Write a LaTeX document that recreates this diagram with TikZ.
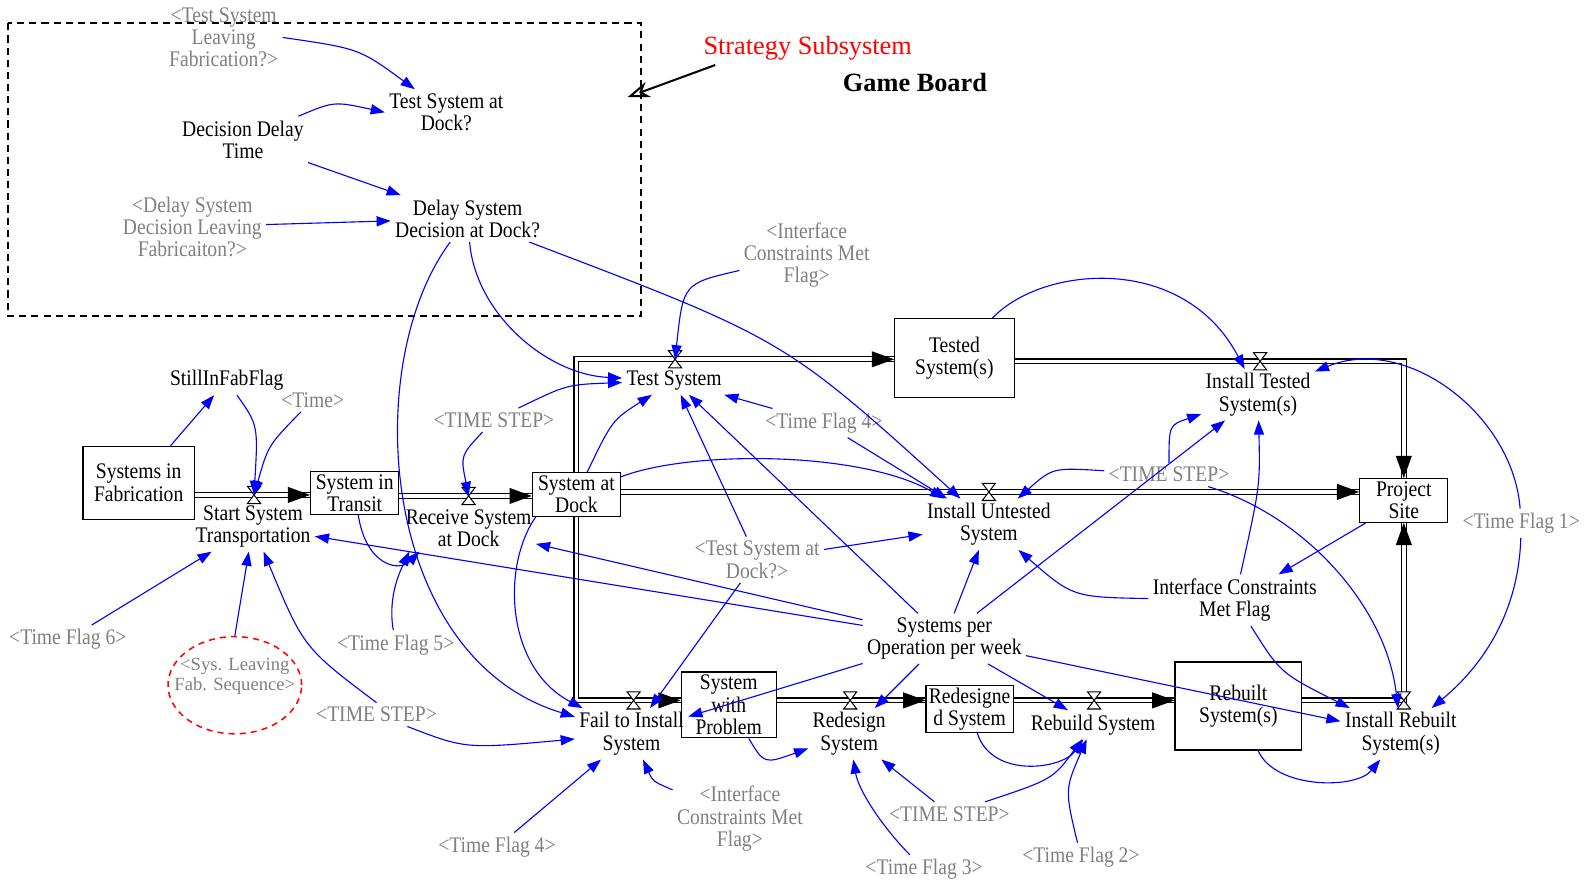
\documentclass[tikz,border=0pt]{standalone}
\usepackage{fontspec}
\setmainfont{Liberation Serif}
\newfontfamily\vnsfont[FakeStretch=0.88]{Liberation Serif}
\usetikzlibrary{arrows.meta,decorations.markings,shapes.geometric}
\definecolor{lbl}{RGB}{128,128,128}
\definecolor{lnk}{RGB}{0,0,255}
\newcommand\vtxt{\vnsfont\fontsize{11}{11}\selectfont}
\tikzset{
  var/.style={align=center, inner sep=2pt, font=\vtxt},
  gvar/.style={var, text=lbl},
  stock/.style={draw, line width=0.6pt, fill=white, align=center, inner sep=1pt, font=\vtxt},
  link/.style={draw=lnk, line width=0.55pt, -{Triangle[length=7pt,width=5pt]}},
  pipe/.style={draw=black, double=white, double distance=1.8pt, line width=0.6pt},
  pipetip/.style={decorate, decoration={markings, mark=at position 1 with {\fill[black] (0,0) -- (-22,8) -- (-22,-8) -- cycle;}}},
  valve/.pic={\draw[line width=0.5pt, fill=white] (-6.5,-8.5) -- (6.5,-8.5) -- (-6.5,8.5) -- (6.5,8.5) -- cycle;}
}
\begin{document}
\begin{tikzpicture}[x=0.5pt,y=-0.5pt]
\useasboundingbox[fill=white] (0,0) rectangle (1568,873);

% strategy subsystem frame
\draw[line width=0.85pt, dash pattern=on 3.5pt off 2.5pt] (8,23) rectangle (633,312);
\node[gvar] (tsl) at (221,37) {<Test System\\Leaving\\Fabrication?>};
\node[var] (tsad) at (441,111) {Test System at\\Dock?};
\node[var] (ddt) at (240,138) {Decision Delay\\Time};
\node[gvar] (dsdl) at (190,224) {<Delay System\\Decision Leaving\\Fabricaiton?>};
\node[var] (dsd) at (462,216) {Delay System\\Decision at Dock?};
\node[text=red, inner sep=0pt, font=\fontsize{13}{13}\selectfont] (strat) at (798,48) {Strategy Subsystem};
\node[inner sep=0pt, font=\bfseries\fontsize{13}{13}\selectfont] (game) at (904,82) {Game Board};
\coordinate (stratTip) at (620,96);
\draw[line width=1pt, -{Stealth[open,length=11pt,width=8pt,inset=3.5pt]}] ([xshift=6pt,yshift=-2pt]strat.south west) -- (stratTip);

% stocks
\node[stock, minimum width=55pt, minimum height=36pt] (SF) at (137,477) {Systems in\\Fabrication};
\node[stock, minimum width=43.5pt, minimum height=21pt] (ST) at (350.5,487) {System in\\Transit};
\node[stock, minimum width=43.5pt, minimum height=21.5pt] (SD) at (569.5,488.5) {System at\\Dock};
\node[stock, minimum width=59pt, minimum height=39pt] (TS) at (943,354) {Tested\\System(s)};
\node[stock, minimum width=43.5pt, minimum height=21.5pt] (PS) at (1387,494.5) {Project\\Site};
\node[stock, minimum width=47pt, minimum height=32.5pt] (SWP) at (720,696.5) {System\\with\\Problem};
\node[stock, minimum width=43pt, minimum height=20.5pt] (RD) at (958,700.5) {Redesigne\\d System};
\node[stock, minimum width=62.5pt, minimum height=43.5pt] (RB) at (1223.5,697.5) {Rebuilt\\System(s)};

% valves
\coordinate (v1) at (251,489);
\coordinate (v2) at (463,490);
\coordinate (v3) at (667,355);
\coordinate (v4) at (977,486);
\coordinate (v5) at (1245,357);
\coordinate (v6) at (626,692);
\coordinate (v7) at (840,692);
\coordinate (v8) at (1081,692);
\coordinate (v9) at (1387,692);

% pipes
\draw[pipe] (SF.east |- v1) -- (ST.west |- v1);
\path[pipetip] (v1) -- (ST.west |- v1);
\draw[pipe] (ST.east |- v2) -- (SD.west |- v2);
\path[pipetip] (v2) -- (SD.west |- v2);
\draw[pipe] (SD.east |- v4) -- (PS.west |- v4);
\path[pipetip] (v4) -- (PS.west |- v4);
\draw[pipe] (SD.north) -- (SD.north |- v3) -- (TS.west |- v3);
\path[pipetip] (v3) -- (TS.west |- v3);
\draw[pipe] (SD.south) -- (SD.south |- v6) -- (SWP.west |- v6);
\path[pipetip] (v6) -- (SWP.west |- v6);
\draw[pipe] (TS.east |- v5) -- (PS.north |- v5) -- (PS.north);
\path[pipetip] (PS.north |- v5) -- (PS.north);
\draw[pipe] (SWP.east |- v7) -- (RD.west |- v7);
\path[pipetip] (v7) -- (RD.west |- v7);
\draw[pipe] (RD.east |- v8) -- (RB.west |- v8);
\path[pipetip] (v8) -- (RB.west |- v8);
\draw[pipe] (RB.east |- v9) -- (v9) -- (PS.south);
\path[pipetip] (v9) -- (PS.south);
% redraw stock over its own pipes
\node[stock, minimum width=43.5pt, minimum height=21.5pt] at (569.5,488.5) {System at\\Dock};

\foreach \v in {v1,v2,v3,v4,v5,v6,v7,v8,v9} \pic at (\v) {valve};

% variables
\node[gvar] (icmf1) at (797,252) {<Interface\\Constraints Met\\Flag>};
\node[var] (tsys) at (666,376) {Test System};
\node[var] (its) at (1243,390) {Install Tested\\System(s)};
\node[var] (sif) at (224,376) {StillInFabFlag};
\node[gvar] (time) at (309,395) {<Time>};
\node[var] (sst) at (250,520) {Start System\\Transportation};
\node[var] (rsd) at (463,522) {Receive System\\at Dock};
\node[gvar] (tstep1) at (488,415) {<TIME STEP>};
\node[gvar] (tf4a) at (814,418) {<Time Flag 4>};
\node[var] (ius) at (977,518) {Install Untested\\System};
\node[gvar] (tstep2) at (1155,469) {<TIME STEP>};
\node[gvar] (tf1) at (1503,517) {<Time Flag 1>};
\node[gvar] (tsadg) at (748,553) {<Test System at\\Dock?>};
\node[var] (icmf) at (1220,593) {Interface Constraints\\Met Flag};
\node[var] (spo) at (933,631) {Systems per\\Operation per week};
\node[gvar] (tf6) at (67,632) {<Time Flag 6>};
\node[gvar] (tf5) at (391,637) {<Time Flag 5>};
\node[draw=red, line width=0.75pt, dash pattern=on 3pt off 2.5pt, ellipse, minimum width=66pt, minimum height=48pt] (slfsE) at (232,677) {};
\node[text=lbl, align=center, inner sep=1pt, font=\fontsize{9.2}{10}\selectfont] (slfs) at (232,668) {<Sys. Leaving\\Fab. Sequence>};
\node[gvar] (tstep3) at (372,706) {<TIME STEP>};
\node[var] (fis) at (624,725) {Fail to Install\\System};
\node[var] (rds) at (839,725) {Redesign\\System};
\node[var] (rbs) at (1080,716) {Rebuild System};
\node[var] (irs) at (1384,725) {Install Rebuilt\\System(s)};
\node[gvar] (icmf2) at (731,809) {<Interface\\Constraints Met\\Flag>};
\node[gvar] (tf4b) at (491,837) {<Time Flag 4>};
\node[gvar] (tstep4) at (938,804) {<TIME STEP>};
\node[gvar] (tf3) at (913,859) {<Time Flag 3>};
\node[gvar] (tf2) at (1068,847) {<Time Flag 2>};

% connectors
\draw[link] (tsl.east) .. controls (355,48) .. (tsad);
\draw[link] (ddt) .. controls (330,100) .. (tsad.west);
\draw[link] (ddt) -- (dsd);
\draw[link] (dsdl) -- (dsd);
\draw[link] (dsd) .. controls (355,360) and (375,650) .. (fis);
\draw[link] (dsd) .. controls (470,310) and (540,370) .. (tsys);
\draw[link] (dsd) .. controls (775,335) .. (ius);
\draw[link] (icmf1) .. controls (675,280) .. (v3);
\draw[link] (TS) .. controls (1030,262) and (1170,250) .. (its);
\draw[link] (tf1) .. controls (1495,410) and (1390,330) .. (its);
\draw[link] (tf1) .. controls (1500,620) and (1450,670) .. (irs);
\draw[link] (tstep2) .. controls (1040,462) .. (ius);
\draw[link] (tstep2) .. controls (1155,420) .. (its);
\draw[link] (tstep2) .. controls (1290,510) and (1370,600) .. (irs);
\draw[link] (spo) -- (its);
\draw[link] (spo) -- (ius);
\draw[link] (spo) -- (tsys);
\draw[link] (spo) -- (sst);
\draw[link] (spo) -- (rsd);
\draw[link] (spo) -- (fis);
\draw[link] (spo) -- (rds);
\draw[link] (spo) -- (rbs);
\draw[link] (spo) -- (irs);
\draw[link] (PS) -- (icmf);
\draw[link] (icmf) .. controls (1060,590) .. (ius);
\draw[link] (icmf) .. controls (1245,480) .. (its);
\draw[link] (icmf) .. controls (1265,665) .. (irs);
\draw[link] (tf4a) -- (tsys);
\draw[link] (tf4a) -- (ius);
\draw[link] (SD) .. controls (680,445) and (850,445) .. (ius);
\draw[link] (SD) .. controls (605,415) .. (tsys);
\draw[link] (tsadg) -- (tsys);
\draw[link] (tsadg) -- (ius);
\draw[link] (tsadg) -- (fis);
\draw[link] (tstep1) .. controls (560,380) .. (tsys);
\draw[link] (tstep1) .. controls (455,450) .. (v2);
\draw[link] (sif) .. controls (255,420) .. (v1);
\draw[link] (SF) -- (sif);
\draw[link] (time) .. controls (265,440) .. (v1);
\draw[link] (tf6) -- (sst);
\draw[link] (slfsE.north) -- (sst);
\draw[link] (tstep3.north) .. controls (300,640) .. (sst);
\draw[link] (tstep3) .. controls (460,740) .. (fis);
\draw[link] (ST) .. controls (362,560) and (395,565) .. ([xshift=9pt]rsd.south west);
\draw[link] (tf5) .. controls (383,590) and (395,565) .. ([xshift=4pt]rsd.south west);
\draw[link] ([xshift=2pt]SD.south west) .. controls (495,560) and (500,660) .. (fis);
\draw[link] (tf4b) -- (fis);
\draw[link] (icmf2) .. controls (645,772) .. (fis);
\draw[link] (SWP) .. controls (755,755) .. (rds);
\draw[link] (tf3) .. controls (870,815) and (848,780) .. (rds);
\draw[link] (tstep4) -- (rds);
\draw[link] (tstep4) .. controls (1040,770) .. (rbs);
\draw[link] (RD) .. controls (980,770) and (1050,760) .. (rbs);
\draw[link] (tf2) .. controls (1052,780) .. (rbs);
\draw[link] (RB) .. controls (1260,780) and (1340,780) .. (irs);
\end{tikzpicture}
\end{document}
